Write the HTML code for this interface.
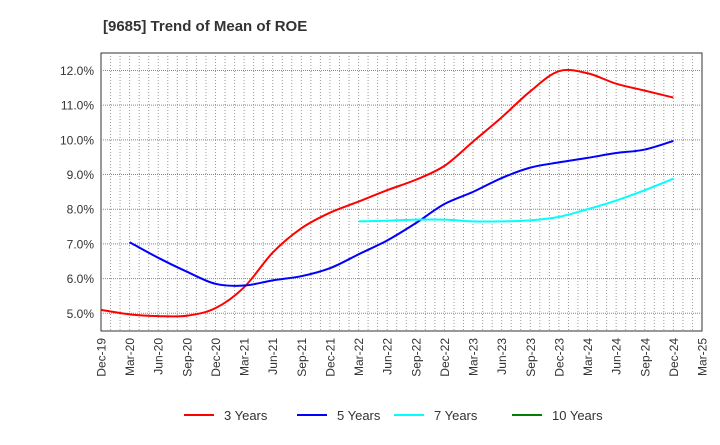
<!DOCTYPE html>
<html><head><meta charset="utf-8"><style>
body{margin:0;background:#fff;font-family:"Liberation Sans",Arial,sans-serif}
svg text{font-family:"Liberation Sans",Arial,sans-serif}
</style></head><body>
<svg id="chart" width="720" height="440" xmlns="http://www.w3.org/2000/svg">
<text x="103" y="31" font-size="15" font-weight="bold" fill="#333">[9685]  Trend of Mean of ROE</text>
<rect x="101" y="53" width="601" height="278" fill="#fff" stroke="#333" stroke-width="1"/>
<g id="grid"></g><g id="yticks"></g><g id="xticks"></g><g id="series"></g>
<g id="legend">
<g><line x1="184" y1="415" x2="214" y2="415" stroke="#ff0000" stroke-width="2"/><text x="224" y="420" font-size="13" fill="#333">3 Years</text></g>
<g><line x1="297" y1="415" x2="327" y2="415" stroke="#0000ff" stroke-width="2"/><text x="337" y="420" font-size="13" fill="#333">5 Years</text></g>
<g><line x1="394" y1="415" x2="424" y2="415" stroke="#00ffff" stroke-width="2"/><text x="434" y="420" font-size="13" fill="#333">7 Years</text></g>
<g><line x1="512" y1="415" x2="542" y2="415" stroke="#008000" stroke-width="2"/><text x="552" y="420" font-size="13" fill="#333">10 Years</text></g>
</g>
</svg>
<script>
const xLabels=["Dec-19","Mar-20","Jun-20","Sep-20","Dec-20","Mar-21","Jun-21","Sep-21","Dec-21","Mar-22","Jun-22","Sep-22","Dec-22","Mar-23","Jun-23","Sep-23","Dec-23","Mar-24","Jun-24","Sep-24","Dec-24","Mar-25"];
const yTicks=[5,6,7,8,9,10,11,12];
const red3=[5.1,4.97,4.92,4.93,5.15,5.75,6.75,7.45,7.9,8.22,8.55,8.85,9.25,9.95,10.65,11.4,11.98,11.92,11.62,11.42,11.22];
const blue5=[null,7.05,6.6,6.2,5.85,5.8,5.95,6.07,6.3,6.7,7.1,7.6,8.15,8.5,8.9,9.2,9.35,9.48,9.62,9.72,9.97];
const cyan7=[null,null,null,null,null,null,null,null,null,7.65,7.67,7.7,7.7,7.65,7.65,7.68,7.78,8.0,8.25,8.55,8.88];
const green10=[];
const NS="http://www.w3.org/2000/svg";
const L=101,R=702,T=53,B=331;
const xq=i=>L+(R-L)*i/21;
const yv=v=>313.3-(v-5)*(313.3-70.5)/7;
function mk(tag,attrs,parent){const e=document.createElementNS(NS,tag);for(const k in attrs)e.setAttribute(k,attrs[k]);parent.appendChild(e);return e;}
const grid=document.getElementById('grid');
for(let m=1;m<63;m++){const x=L+(R-L)*m/63;
const l=mk('line',{x1:x,y1:T,x2:x,y2:B,stroke:'#999','stroke-width':1,'stroke-dasharray':'1,2'},grid);

}
const yt=document.getElementById('yticks');
yTicks.forEach(v=>{const y=yv(v);
const l=mk('line',{x1:L,y1:y,x2:R,y2:y,stroke:'#888','stroke-width':1,'stroke-dasharray':'1,1'},grid);


const t=mk('text',{x:L-7,y:y+4.5,'font-size':12,'text-anchor':'end',fill:'#333'},yt);t.textContent=v.toFixed(1)+'%';

});
const xt=document.getElementById('xticks');
xLabels.forEach((s,i)=>{const x=xq(i);
const t=mk('text',{x:0,y:0,'font-size':12,'text-anchor':'end',fill:'#333',transform:`translate(${x+4.5},${B+7}) rotate(-90)`},xt);t.textContent=s;

});
function path(arr){const pts=[];arr.forEach((v,i)=>{if(v!=null)pts.push([xq(i),yv(v)]);});
if(pts.length<2)return '';let d=`M${pts[0][0]},${pts[0][1]}`;
for(let i=0;i<pts.length-1;i++){const p0=pts[Math.max(0,i-1)],p1=pts[i],p2=pts[i+1],p3=pts[Math.min(pts.length-1,i+2)];
const c1=[p1[0]+(p2[0]-p0[0])/6,p1[1]+(p2[1]-p0[1])/6],c2=[p2[0]-(p3[0]-p1[0])/6,p2[1]-(p3[1]-p1[1])/6];
d+=` C${c1[0]},${c1[1]} ${c2[0]},${c2[1]} ${p2[0]},${p2[1]}`;}return d;}
const sg=document.getElementById('series');
[[red3,'#ff0000','line-3-years'],[blue5,'#0000ff','line-5-years'],[cyan7,'#00ffff','line-7-years'],[green10,'#008000','line-10-years']].forEach(([a,c,n])=>{
const d=path(a);if(!d)return;
const p=mk('path',{d:d,fill:'none',stroke:c,'stroke-width':2},sg);

});
</script>
</body></html>
